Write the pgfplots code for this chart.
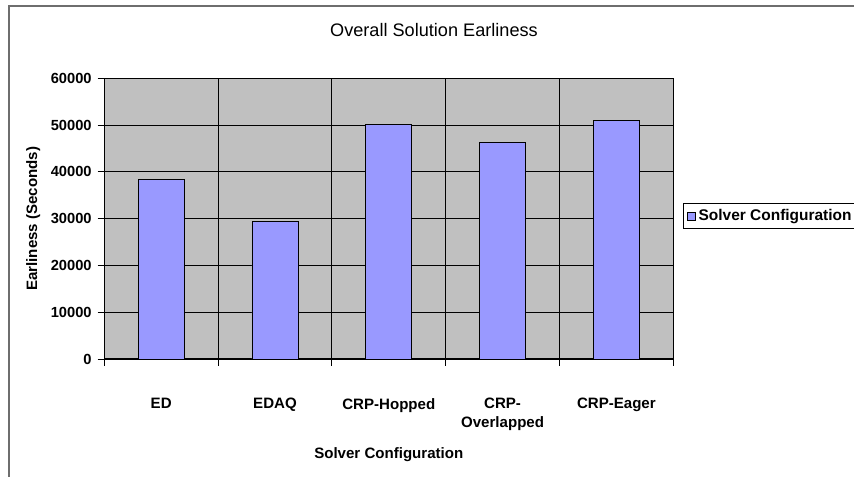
\documentclass[border=0pt]{standalone}
\usepackage{pgfplots}
\pgfplotsset{compat=1.18}
\usepackage{fontspec}
\setmainfont{Liberation Sans}
\definecolor{plotbg}{RGB}{192,192,192}
\definecolor{barfill}{RGB}{153,153,255}
\definecolor{framegray}{RGB}{110,110,110}
\begin{document}
\begin{tikzpicture}[x=0.75pt,y=0.75pt]
\useasboundingbox (0,0) rectangle (854,476);
\fill[white] (0,0) rectangle (854,476);
\draw[framegray, line width=1.3pt] (9,-2) -- (9,470) -- (856,470);
\node[font=\fontsize{13.6}{15}\selectfont] at (434,446) {Overall Solution Earliness};
\coordinate (AX) at (104.3,117);
\begin{axis}[
  at={(AX)}, anchor=south west,
  scale only axis,
  width=426.75pt, height=210.5pt,
  xmin=-0.5, xmax=4.5,
  ymin=0, ymax=60000,
  axis x line*=bottom, axis y line*=left,
  axis line style={black, line width=0.8pt},
  axis background/.style={fill=plotbg, draw=gray, line width=0.8pt},
  ytick={0,10000,...,60000},
  yticklabel style={font=\fontsize{11}{12}\selectfont\bfseries, xshift=-1pt},
  /pgf/number format/assume math mode=true,
  /pgf/number format/set thousands separator={},
  scaled y ticks=false,
  xtick={-0.5,0.5,1.5,2.5,3.5,4.5},
  xticklabels={},
  tick align=outside,
  major tick length=5pt,
  tick style={black, line width=0.6pt},
  ymajorgrids, xmajorgrids,
  major grid style={black, line width=0.7pt},
  extra x ticks={0,1,2,3,4},
  extra x tick labels={ED,EDAQ,CRP-Hopped,{CRP-\\Overlapped},CRP-Eager},
  extra x tick style={grid=none, major tick length=0pt,
    xticklabel style={yshift=-26pt, anchor=north, align=center,
      font=\fontsize{11.3}{14.2}\selectfont\bfseries}},
  xlabel={Solver Configuration},
  xlabel style={font=\fontsize{11.3}{13}\selectfont\bfseries, at={(axis description cs:0.5,-0.342)}, anchor=center},
  ylabel={Earliness (Seconds)},
  ylabel style={font=\fontsize{11.3}{13}\selectfont\bfseries, at={(axis description cs:-0.125,0.5)}, anchor=center, rotate=0},
  legend style={at={(axis description cs:1.017,0.555)}, anchor=north west, draw=black, line width=0.5pt,
    font=\fontsize{11.6}{13}\selectfont\bfseries, inner xsep=3pt, inner ysep=2.5pt,
    legend cell align=left, /tikz/every even column/.append style={column sep=0pt}},
  legend image code/.code={\draw[fill=barfill, draw=black, line width=0.5pt] (0pt,-3pt) rectangle (6pt,3pt);},
]
\addplot[ybar, bar width=34.5pt, fill=barfill, draw=black, line width=0.6pt]
  coordinates {(0,38400) (1,29350) (2,50170) (3,46300) (4,50950)};
\addlegendentry{Solver Configuration}
\end{axis}
\end{tikzpicture}
\end{document}
